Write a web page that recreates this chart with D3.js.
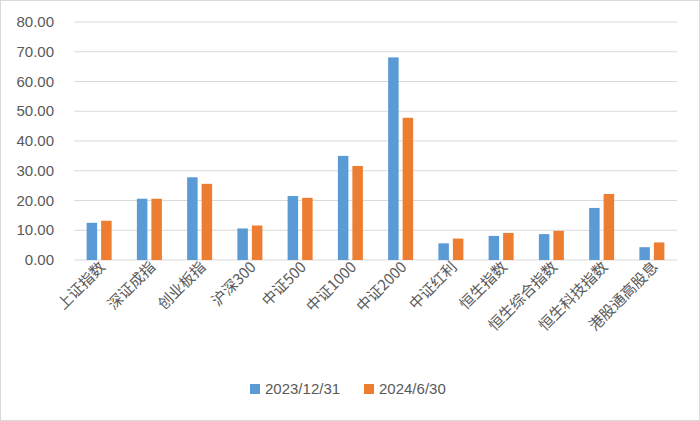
<!DOCTYPE html>
<html><head><meta charset="utf-8">
<script src="https://cdn.jsdelivr.net/npm/d3@7"></script>
<style>body{margin:0;background:#fff}text{font-family:"Noto Sans CJK SC","Noto Sans",sans-serif;fill:#595959}</style>
</head><body>
<svg width="700" height="421"></svg>
<script>
var categories = ["上证指数","深证成指","创业板指","沪深300","中证500","中证1000","中证2000","中证红利","恒生指数","恒生综合指数","恒生科技指数","港股通高股息"];
var seriesNames = ["2023/12/31","2024/6/30"];
var values2023 = [12.5,20.6,27.8,10.6,21.5,35.0,68.1,5.6,8.1,8.7,17.5,4.3];
var values2024 = [13.2,20.6,25.6,11.6,20.9,31.6,47.8,7.2,9.1,9.8,22.2,5.9];
var colors = ["#5b9bd5","#ed7d31"];

var svg = d3.select("svg");
svg.append("rect").attr("x",0.5).attr("y",0.5).attr("width",699).attr("height",420)
  .attr("fill","#fff").attr("stroke","#d9d9d9");

var x = d3.scaleBand().domain(categories).range([74, 677]);
var y = d3.scaleLinear().domain([0, 80]).range([260, 22]);

svg.append("g").selectAll("line").data(d3.range(0, 81, 10)).enter().append("line")
  .attr("x1",74).attr("x2",677).attr("y1",d=>y(d)).attr("y2",d=>y(d))
  .attr("stroke","#d9d9d9");

svg.append("g").selectAll("text").data(d3.range(0, 81, 10)).enter().append("text")
  .attr("x",54).attr("y",d=>y(d)+5).attr("text-anchor","end")
  .style("font-size","15px").style("font-family","Liberation Sans, sans-serif")
  .text(d=>d.toFixed(2));

var bw = 10.5;
[values2023, values2024].forEach(function(vals, s) {
  svg.append("g").selectAll("rect").data(vals).enter().append("rect")
    .attr("x",(d,i)=>x(categories[i]) + x.bandwidth()/2 - bw - 2 + s*(bw+4))
    .attr("y",d=>y(d)).attr("width",bw).attr("height",d=>y(0)-y(d))
    .attr("fill",colors[s]);
});

svg.append("g").selectAll("text").data(categories).enter().append("text")
  .attr("transform",d=>"translate("+(x(d)+x.bandwidth()/2+7)+",268) rotate(-45)")
  .attr("text-anchor","end").style("font-size","15px").text(d=>d);

var lg = svg.append("g").attr("transform","translate(250,390)");
seriesNames.forEach(function(n, i) {
  var g = lg.append("g").attr("transform","translate("+(i*114)+",0)");
  g.append("rect").attr("x",0).attr("y",-6).attr("width",10).attr("height",10).attr("fill",colors[i]);
  g.append("text").attr("x",15).attr("y",4).style("font-size","15px")
    .style("font-family","Liberation Sans, sans-serif").text(n);
});
</script>
</body></html>
